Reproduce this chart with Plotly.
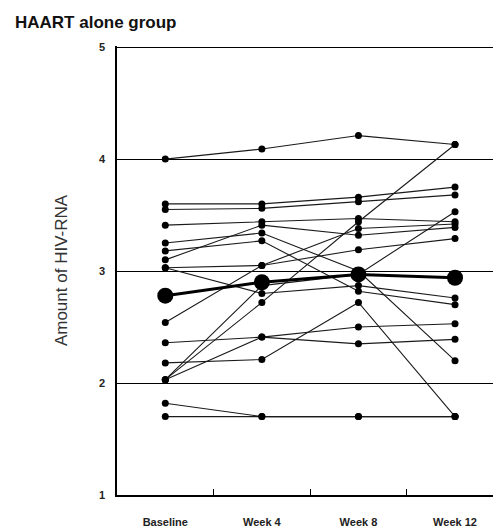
import plotly.graph_objects as go

timepoints = ["Baseline", "Week 4", "Week 8", "Week 12"]

baseline = [4.00, 3.60, 3.55, 3.41, 3.25, 3.18, 3.10, 3.03, 3.03, 2.54, 2.36, 2.18, 2.03, 2.03, 2.03, 1.82, 1.70]
week4 = [4.09, 3.60, 3.56, 3.44, 3.34, 3.27, 3.41, 3.05, 2.80, 3.05, 2.41, 2.21, 2.87, 2.72, 2.41, 1.70, 1.70]
week8 = [4.21, 3.66, 3.62, 3.47, 3.00, 2.82, 3.32, 3.19, 2.87, 3.38, 2.50, 2.72, 2.97, 3.44, 2.35, 1.70, 1.70]
week12 = [4.13, 3.75, 3.68, 3.44, 2.20, 2.70, 3.39, 3.29, 2.76, 3.42, 2.53, 1.70, 3.53, 4.13, 2.39, 1.70, 1.70]

group_mean = [2.78, 2.90, 2.97, 2.94]

yticks = [1, 2, 3, 4, 5]

fig = go.Figure()
for i in range(len(baseline)):
    fig.add_trace(go.Scatter(
        x=timepoints,
        y=[baseline[i], week4[i], week8[i], week12[i]],
        mode="lines+markers",
        line=dict(color="#1a1a1a", width=1.1),
        marker=dict(color="black", size=7),
        showlegend=False,
        hoverinfo="skip",
    ))

fig.add_trace(go.Scatter(
    x=timepoints,
    y=group_mean,
    mode="lines+markers",
    line=dict(color="black", width=3),
    marker=dict(color="black", size=16),
    showlegend=False,
))

font_family = "Liberation Sans, Arial, sans-serif"

# page body has an 8px margin, so the figure is sized to fill the rest of the window
W, H = 493, 520

fig.update_layout(
    width=W,
    height=H,
    margin=dict(l=109, r=0, t=38, b=30),
    paper_bgcolor="white",
    plot_bgcolor="white",
    font=dict(family=font_family, color="#222"),
    title=dict(
        text="<b>HAART alone group</b>",
        x=7 / W,
        xanchor="left",
        xref="container",
        y=1 - 14 / H,
        yanchor="middle",
        yref="container",
        font=dict(size=17, color="#111", family=font_family),
    ),
    xaxis=dict(
        type="category",
        categoryorder="array",
        categoryarray=timepoints,
        range=[-0.5, 3.476],
        tickson="boundaries",
        ticks="inside",
        ticklen=6,
        tickwidth=1.3,
        tickcolor="black",
        showline=True,
        linecolor="black",
        linewidth=1.5,
        showgrid=False,
        zeroline=False,
        ticklabelstandoff=16,
        tickfont=dict(size=11, color="#222"),
        tickprefix="<b>",
        ticksuffix="</b>",
    ),
    yaxis=dict(
        range=[1, 5.01],
        tickvals=yticks,
        ticktext=[f"<b>{v}</b>" for v in yticks],
        ticks="inside",
        ticklen=4,
        tickwidth=1.3,
        tickcolor="black",
        showline=True,
        linecolor="black",
        linewidth=1.5,
        showgrid=True,
        gridcolor="black",
        gridwidth=1.3,
        zeroline=False,
        ticklabelstandoff=8,
        tickfont=dict(size=11, color="#222"),
        title=dict(
            text="Amount of HIV-RNA",
            font=dict(size=17, color="#333"),
            standoff=27,
        ),
    ),
)

fig.write_html("out.html")
